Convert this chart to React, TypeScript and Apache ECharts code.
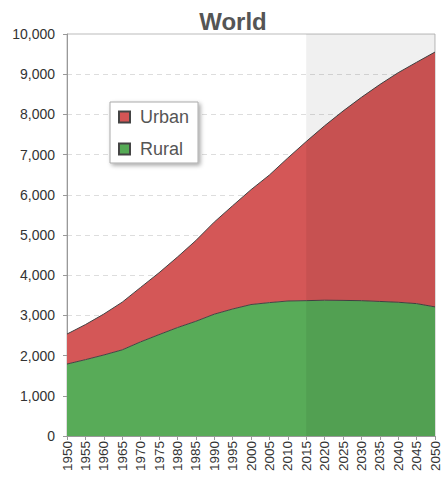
import React, { useEffect, useRef } from "react";
import * as echarts from "echarts";

const years = ["1950","1955","1960","1965","1970","1975","1980","1985","1990","1995","2000","2005","2010","2015","2020","2025","2030","2035","2040","2045","2050"];
const rural = [1790,1899,2015,2143,2342,2522,2697,2853,3030,3159,3270,3318,3358,3367,3378,3373,3366,3347,3327,3293,3212];
const urban = [746,872,1019,1186,1354,1538,1754,2008,2290,2569,2857,3174,3558,3957,4339,4710,5058,5396,5711,6004,6339];
const projectionStart = "2015";
const projectionEnd = "2050";

export default function App() {
  const ref = useRef<HTMLDivElement>(null);
  useEffect(() => {
    const chart = echarts.init(ref.current!, null, { renderer: "svg" });
    const font = "Liberation Sans, Arial, sans-serif";
    chart.setOption({
      animation: false,
      title: {
        text: "World",
        left: 228,
        textAlign: "center",
        top: 4,
        textStyle: { fontFamily: font, fontSize: 24, fontWeight: "bold", color: "#555" },
      },
      legend: {
        orient: "vertical",
        left: 110,
        top: 102,
        data: ["Urban", "Rural"],
        backgroundColor: "#fff",
        borderColor: "#aaa",
        borderWidth: 1,
        shadowColor: "rgba(0,0,0,0.35)",
        shadowBlur: 4,
        shadowOffsetX: 2,
        shadowOffsetY: 2,
        padding: [6, 9, 5, 8],
        itemGap: 14,
        itemWidth: 11,
        itemHeight: 11,
        icon: "rect",
        textStyle: { fontFamily: font, fontSize: 18, color: "#555", padding: [0, 0, 0, 5] },
      },
      grid: { left: 67, right: 9, top: 34, bottom: 47, show: true, borderColor: "#bbb", borderWidth: 1, backgroundColor: "transparent" },
      xAxis: {
        type: "category",
        data: years,
        boundaryGap: false,
        axisLine: { lineStyle: { color: "#999" } },
        axisTick: { show: true, interval: 0, lineStyle: { color: "#999" }, length: 4 },
        axisLabel: { interval: 0, rotate: 90, fontFamily: font, fontSize: 13.5, color: "#333", margin: 5 },
        splitLine: { show: false },
      },
      yAxis: {
        type: "value",
        min: 0,
        max: 10000,
        interval: 1000,
        axisLine: { show: true, lineStyle: { color: "#999" } },
        axisTick: { show: true, length: 4, lineStyle: { color: "#999" } },
        axisLabel: {
          fontFamily: font,
          fontSize: 14,
          color: "#333",
          margin: 12,
          formatter: (v: number) => v.toLocaleString("en-US"),
        },
        splitLine: { lineStyle: { color: "#ddd", type: [5, 4] } },
      },
      series: [
        {
          name: "Rural",
          type: "line",
          stack: "total",
          data: rural,
          symbol: "none",
          lineStyle: { color: "#444", width: 1 },
          itemStyle: { color: "#55aa55", borderColor: "#444", borderWidth: 1 },
          areaStyle: { color: "#58ab58", opacity: 1 },
          z: 2,
        },
        {
          name: "Urban",
          type: "line",
          stack: "total",
          data: urban,
          symbol: "none",
          lineStyle: { color: "#444", width: 1 },
          itemStyle: { color: "#d45555", borderColor: "#444", borderWidth: 1 },
          areaStyle: { color: "#d45757", opacity: 1 },
          z: 2,
        },
        {
          name: "Projection",
          type: "line",
          data: [],
          z: 5,
          silent: true,
          markArea: {
            silent: true,
            z: 10,
            itemStyle: { color: "rgba(0,0,0,0.06)" },
            data: [[{ xAxis: projectionStart, yAxis: 0 }, { xAxis: projectionEnd, yAxis: 10000 }]],
          },
        },
      ],
    });
    return () => chart.dispose();
  }, []);
  return <div ref={ref} style={{ width: 444, height: 483, position: "absolute", left: 0, top: 0 }} />;
}
